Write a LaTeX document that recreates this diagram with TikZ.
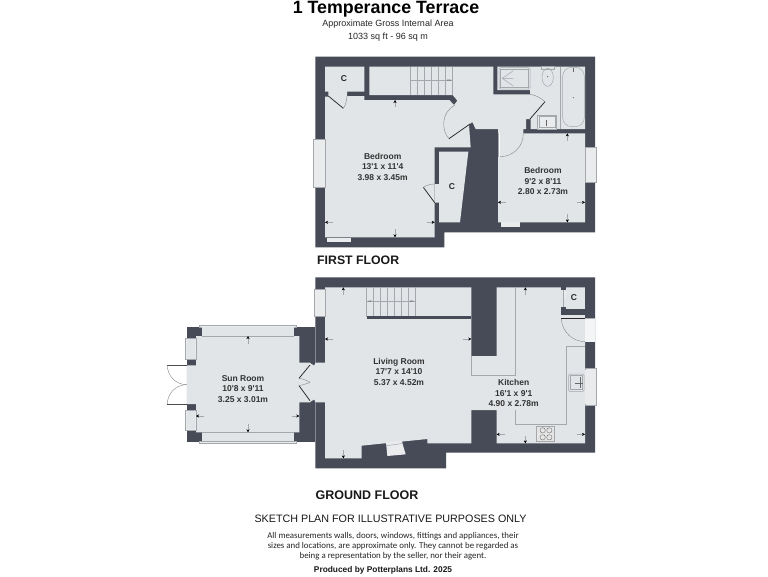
\documentclass[tikz,border=0pt]{standalone}
\usepackage{fontspec}
\setmainfont{Liberation Sans}
\newfontfamily\plainf{Liberation Sans}
\newfontfamily\discf{Carlito}
\definecolor{wallc}{HTML}{464B57}
\definecolor{floorc}{HTML}{E2E5E8}
\definecolor{winc}{HTML}{E9EBED}
\definecolor{linec}{HTML}{A4A8AD}
\usetikzlibrary{arrows.meta}
\tikzset{
  wall/.style={fill=wallc,draw=none},
  floorarea/.style={fill=floorc,draw=none},
  glazing/.style={fill=winc,draw=linec,line width=.5pt},
  fixture/.style={draw=linec,line width=.5pt},
  thinline/.style={draw=linec,line width=.5pt},
  leaf/.style={draw=black!85,line width=.75pt},
  swing/.style={draw=linec!80!black,line width=.4pt},
  measure/.style={draw=linec,line width=.35pt,-{Stealth[length=3pt,width=3pt,black]}},
  roomlabel/.style={inner sep=0pt,align=center,font=\plainf\bfseries\fontsize{8.5}{10.5}\selectfont,text=black!80},
  cuplabel/.style={inner sep=0pt,font=\plainf\bfseries\fontsize{8.5}{10}\selectfont,text=black!85},
  tiny/.style={inner sep=0pt,font=\plainf\fontsize{2.6}{3}\selectfont,text=black!70},
  plain/.style={inner sep=0pt,align=center},
}
\begin{document}
\begin{tikzpicture}[x=1pt,y=-1pt]
\useasboundingbox (0,0) rectangle (768,576);
\fill[white] (0,0) rectangle (768,576);
%% FIRST FLOOR
\begin{scope}[shift={(300,50)},x=.33333pt,y=-.33333pt]
\path[wall] (46,20)--(885,20)--(885,547)--(433,547)--(433,592)--(46,592)--cycle;
\path[floorarea] (208,50)--(580,50)--(580,133)--(690,133)--(690,120)--(592,120)--(592,50)--(855,50)--(855,237)--(692,237)--(692,207)--(678,207)--(678,237)--(670,237)--(670,250)--(855,250)--(855,517)--(594,517)--(594,237)--(527,237)--(517,216)--(507,224)--(512,292)--(404,292)--(404,562)--(75,562)--(75,140)--(85,140)--(85,125)--(75,125)--(75,50)--(193,50)--(193,125)--(141,125)--(141,138)--(193,138)--(193,150)--(448,150)--(462,165)--(472,152)--(458,135)--(208,135)--cycle;
\path[floorarea] (417,305)--(505,305)--(480,517)--(417,517)--(417,458)--(404,458)--(404,402)--(417,402)--cycle;
% windows
\path[glazing] (41,267) rectangle (75,412);
\path[glazing] (855,292) rectangle (890,397);
\path[fill=winc] (80,563) rectangle (153,576);
\path[fill=winc] (603,517) rectangle (660,532);
% stairs
\foreach \sx in {332,352,373,394,415,436,457} \draw[thinline] (\sx,50)--(\sx,135);
\draw[thinline] (332,90)--(457,90);
\node[tiny] (dnf) at (447,91) {DN};
% bathroom
\draw[fixture,rounded corners=1.5pt] (597,53) rectangle (690,117);
\draw[fixture] (602,57) rectangle (685,113);
\draw[fixture] (640,62)--(607,85)--(640,108) (607,85)--(640,85);
\draw[fixture] (725,50) rectangle (762,58);
\draw[fixture] (743,82) ellipse [x radius=17,y radius=27];
\draw[fill=black!60,draw=none] (743,80) circle [radius=2];
\draw[thinline] (781,50)--(781,237);
\draw[fixture,rounded corners=9pt] (788,52) rectangle (853,230);
\draw[fill=black!60,draw=none] (820,143) circle [radius=2];
\draw[fill=black!60,draw=none] (818,55) rectangle (822,66);
\draw[fixture,fill=winc] (712,195) rectangle (770,237);
\draw[fixture] (718,200) rectangle (765,232);
\draw[black!60,line width=.5pt] (740,210)--(740,228);
% doors
\draw[leaf] (85,138)--(130,175);
\draw[swing] (130,175) .. controls (138,165) and (140,150) .. (141,138);
\draw[leaf] (447,266)--(510,222);
\draw[swing] (465,165) .. controls (425,185) and (422,240) .. (447,266);
\draw[leaf] (690,207)--(735,155);
\draw[swing] (735,155) .. controls (722,143) and (705,135) .. (690,133);
\draw[draw=white,line width=.7pt] (597,250)--(597,320);
\draw[thinline] (594,250)--(594,320);
\draw[swing] (600,320) .. controls (640,320) and (670,290) .. (670,250);
\draw[leaf] (370,412)--(404,458);
\draw[swing] (370,412) .. controls (380,405) and (392,402) .. (404,402);
% measures
\draw[measure] (285,172)--(285,150);
\draw[measure] (285,538)--(285,562);
\draw[measure] (100,517)--(75,517);
\draw[measure] (380,517)--(404,517);
\draw[measure] (618,457)--(594,457);
\draw[measure] (832,457)--(855,457);
\draw[measure] (802,272)--(802,250);
\draw[measure] (802,493)--(802,517);
\end{scope}
%% GROUND FLOOR
\begin{scope}[shift={(170,270)},x=.33333pt,y=-.33333pt]
\path[wall] (436,22)--(1275,22)--(1275,548)--(828,548)--(828,595)--(436,595)--cycle;
\path[wall] (50,170) rectangle (436,516);
% sun room windows
\path[glazing] (88,166) rectangle (378,172);
\path[glazing] (88,514) rectangle (378,520);
\path[floorarea] (95,172) rectangle (373,198);
\path[floorarea] (95,487) rectangle (373,514);
% sun room floor
\path[floorarea] (78,198)--(388,198)--(388,278)--(420,278)--(432,285)--(436,278)--(470,278)--(470,397)--(436,397)--(432,390)--(420,397)--(388,397)--(388,487)--(78,487)--(78,402)--(50,402)--(50,286)--(78,286)--cycle;
\draw[thinline] (95,198)--(373,198) (95,487)--(373,487);
\path[glazing] (45,205) rectangle (78,268);
\path[floorarea] (52,207) rectangle (76,266);
\path[glazing] (45,422) rectangle (78,480);
\path[floorarea] (52,424) rectangle (76,478);
% main floor
\path[floorarea] (465,52)--(904,52)--(904,258)--(980,258)--(980,52)--(1245,52)--(1245,145)--(1275,145)--(1275,215)--(1245,215)--(1245,520)--(980,520)--(980,420)--(904,420)--(904,520)--(772,520)--(772,507)--(575,527)--(575,565)--(465,565)--(465,397)--(465,278)--cycle;
\path[fill=white!60!floorc] (1245,146) rectangle (1275,215);
% windows
\path[glazing] (432,58) rectangle (465,138);
\path[glazing] (1245,296) rectangle (1280,405);
\path[fill=winc] (1246,300) rectangle (1275,402);
\path[fill=winc] (648,517)--(695,512)--(707,553)--(652,558)--cycle;
\draw[fixture] (650,527)--(700,520);
% stairs
\foreach \sx in {590,610,631,652,673,695,715,736} \draw[thinline] (\sx,52)--(\sx,140);
\draw[thinline] (590,95)--(736,95);
\node[tiny] (upg) at (600,95) {UP};
\node[tiny] (dng) at (725,95) {DN};
\path[wall] (590,138) rectangle (904,146);
% kitchen worktop
\draw[thinline] (1037,52)--(1037,316)--(904,316)--(904,258);
\draw[thinline] (1037,420)--(1037,463)--(1188,463)--(1188,228)--(1245,228);
\draw[fixture,fill=floorc,rounded corners=1pt] (1196,312) rectangle (1242,364);
\draw[fixture] (1200,317) rectangle (1238,359);
\draw[black!60,line width=.35pt] (1215,339)--(1238,339) (1232,322)--(1232,355);
\draw[fixture,fill=black!10] (1098,468) rectangle (1154,515);
\foreach \hx/\hy in {1118/481,1138/481,1118/502,1138/502}
  \draw[black!60,line width=.35pt] (\hx,\hy) circle [radius=8];
% kitchen closet
\path[wall] (1173,45) rectangle (1187,60);
\path[wall] (1173,112) rectangle (1187,132);
\path[wall] (1187,118) rectangle (1275,132);
\path[wall] (1245,52) rectangle (1275,145);
\path[wall] (1173,132) rectangle (1245,134);
\draw[draw=black!85,line width=.9pt] (1173,145)--(1245,145);
\path[fill=winc] (1180,60) rectangle (1187,85);
\draw[thinline] (1180,60)--(1180,112);
\draw[swing] (1174,147) .. controls (1176,185) and (1208,215) .. (1245,215);
% doors
\path[wall] (420,278)--(436,278)--(432,286)--cycle;
\path[wall] (420,397)--(436,397)--(432,389)--cycle;
\draw[leaf] (420,285)--(387,325);
\draw[leaf] (420,392)--(387,347);
\draw[swing] (387,325) .. controls (398,326) and (412,332) .. (420,337);
\draw[swing] (387,347) .. controls (398,345) and (412,340) .. (420,337);
\draw[line width=.9pt,draw=black!70] (-8,286)--(50,286);
\draw[line width=.9pt,draw=black!70] (-8,402)--(50,402);
\draw[swing] (-8,286) .. controls (-8,315) and (15,344) .. (50,344);
\draw[swing] (-8,402) .. controls (-8,373) and (15,344) .. (50,344);
% measures
\draw[measure] (234,222)--(234,198);
\draw[measure] (234,463)--(234,487);
\draw[measure] (103,438)--(78,438);
\draw[measure] (365,438)--(388,438);
\draw[measure] (520,75)--(520,52);
\draw[measure] (520,541)--(520,565);
\draw[measure] (490,207)--(465,207);
\draw[measure] (880,207)--(904,207);
\draw[measure] (1066,76)--(1066,52);
\draw[measure] (1066,497)--(1066,520);
\draw[measure] (1005,493)--(980,493);
\draw[measure] (1220,493)--(1245,493);
\end{scope}
%% TEXTS
\node[plain,font=\bfseries\fontsize{17.8}{20}\selectfont] (title) at (386,9.2) {1 Temperance Terrace};
\node[plain,font=\fontsize{9}{10}\selectfont,text=black!85] (sub1) at (388,24.5) {Approximate Gross Internal Area};
\node[plain,font=\fontsize{9}{10}\selectfont,text=black!85] (sub2) at (388,37) {1033 sq ft - 96 sq m};
\node[plain,anchor=west,font=\bfseries\fontsize{12.3}{13}\selectfont,text=black!90] (ff) at (317,260.5) {FIRST FLOOR};
\node[plain,anchor=west,font=\bfseries\fontsize{12.5}{14}\selectfont,text=black!90] (gf) at (315.5,495.5) {GROUND FLOOR};
\node[plain,font=\fontsize{10.75}{12}\selectfont,text=black!90] (sk) at (390.5,518.5) {SKETCH PLAN FOR ILLUSTRATIVE PURPOSES ONLY};
\node[plain,font=\discf\fontsize{8.85}{10}\selectfont,text=black!85] (disc) at (393,545.7) {All measurements walls, doors, windows, fittings and appliances, their\\sizes and locations, are approximate only. They cannot be regarded as\\being a representation by the seller, nor their agent.};
\node[plain,font=\bfseries\fontsize{8.35}{9}\selectfont,text=black!90] (prod) at (383,570) {Produced by Potterplans Ltd. 2025};
\node[roomlabel] (bed1) at (382.7,166.7) {Bedroom\\13'1 x 11'4\\3.98 x 3.45m};
\node[roomlabel] (bed2) at (543,181) {Bedroom\\9'2 x 8'11\\2.80 x 2.73m};
\node[cuplabel] (c1) at (344,79) {C};
\node[cuplabel] (c2) at (452,187) {C};
\node[roomlabel] (sun) at (243,389) {Sun Room\\10'8 x 9'11\\3.25 x 3.01m};
\node[roomlabel] (liv) at (399,371.5) {Living Room\\17'7 x 14'10\\5.37 x 4.52m};
\node[roomlabel] (kit) at (513.7,393) {Kitchen\\16'1 x 9'1\\4.90 x 2.78m};
\node[cuplabel] (c3) at (574,297.5) {C};
\end{tikzpicture}
\end{document}
